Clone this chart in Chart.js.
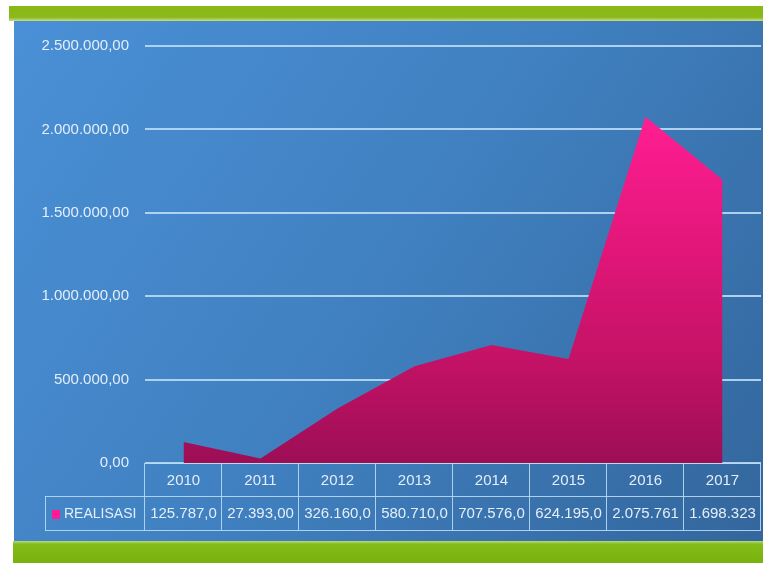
<!DOCTYPE html>
<html><head><meta charset="utf-8">
<script src="https://cdn.jsdelivr.net/npm/chart.js@4/dist/chart.umd.min.js"></script>
<style>html,body{margin:0;padding:0;background:#fff;}canvas{display:block;}</style>
</head><body>
<canvas id="c" width="763" height="563"></canvas>
<script>
const categories = ['2010','2011','2012','2013','2014','2015','2016','2017'];
const realisasi = [125787, 27393, 326160, 580710, 707576, 624195, 2075761, 1698323];
const tableLabels = ['125.787,0','27.393,00','326.160,0','580.710,0','707.576,0','624.195,0','2.075.761','1.698.323'];
const seriesName = 'REALISASI';
const yMax = 2500000;
const yStep = 500000;

const FONT = "'Liberation Sans', Arial, sans-serif";
const FSIZE = 15;
const TXT = '#e4eefa';
const LINE = 'rgba(185,218,245,0.9)';

function fmtID(v){
  const fixed = Math.abs(v).toFixed(2);
  let [ip, dp] = fixed.split('.');
  ip = ip.replace(/\B(?=(\d{3})+(?!\d))/g, '.');
  return (v<0?'-':'') + ip + ',' + dp;
}

const bgPlugin = {
  id:'bg',
  beforeDraw(chart){
    const c = chart.ctx, W = chart.width, H = chart.height;
    c.save();
    c.fillStyle = '#fff'; c.fillRect(0,0,W,H);
    const g = c.createLinearGradient(15,20,W,543);
    g.addColorStop(0,'#4a90d6'); g.addColorStop(0.5,'#4080c0'); g.addColorStop(1,'#33669c');
    c.fillStyle = g; c.fillRect(14,20,W-14,523);
    const gt = c.createLinearGradient(0,6,0,21);
    gt.addColorStop(0,'#8ab814'); gt.addColorStop(0.75,'#8cb81c'); gt.addColorStop(1,'#c4e08a');
    c.fillStyle = gt; c.fillRect(9,6,W-9,15);
    const gb = c.createLinearGradient(0,540,0,563);
    gb.addColorStop(0,'#c8e4a0'); gb.addColorStop(0.18,'#84bc18'); gb.addColorStop(1,'#78b010');
    c.fillStyle = gb; c.fillRect(13,541,W-13,22);
    c.restore();
  }
};

const tablePlugin = {
  id:'table',
  afterDatasetsDraw(chart){
    const c = chart.ctx, ca = chart.chartArea, xs = chart.scales.x;
    const n = categories.length;
    const colW = (ca.right - ca.left)/n;
    const top = ca.bottom, r1 = top + 33, r2 = top + 67;
    const legL = 45;
    c.save();
    c.strokeStyle = LINE; c.lineWidth = 1;
    c.beginPath();
    c.moveTo(ca.left, top+0.5); c.lineTo(ca.right, top+0.5);
    c.moveTo(legL, r1+0.5); c.lineTo(ca.right, r1+0.5);
    c.moveTo(legL, r2+0.5); c.lineTo(ca.right, r2+0.5);
    for(let i=0;i<=n;i++){
      const x = Math.round(ca.left + i*colW) - 0.5;
      c.moveTo(x, top); c.lineTo(x, r2);
    }
    c.moveTo(legL+0.5, r1); c.lineTo(legL+0.5, r2);
    c.stroke();
    c.fillStyle = TXT; c.font = FSIZE + 'px ' + FONT;
    c.textAlign = 'center'; c.textBaseline = 'middle';
    const ym = (r1+r2)/2 + 1;
    for(let i=0;i<n;i++){
      c.fillText(tableLabels[i], xs.getPixelForValue(i), ym);
    }
    c.fillStyle = '#ff1a96';
    c.fillRect(52, ym-4, 8, 9);
    c.fillStyle = TXT; c.textAlign = 'left';
    c.font = '14px ' + FONT;
    c.fillText(chart.data.datasets[0].label, 64, ym);
    c.restore();
  }
};

new Chart(document.getElementById('c'), {
  type:'line',
  data:{
    labels: categories,
    datasets:[{
      label: seriesName,
      data: realisasi,
      fill:'origin',
      borderWidth:0,
      pointRadius:0,
      tension:0,
      backgroundColor(ctx){
        const ca = ctx.chart.chartArea;
        if(!ca) return '#d01070';
        const g = ctx.chart.ctx.createLinearGradient(0, ca.top, 0, ca.bottom);
        g.addColorStop(0,'#ff1aa2'); g.addColorStop(0.17,'#ff1e92'); g.addColorStop(0.5,'#e01678');
        g.addColorStop(0.75,'#c41266'); g.addColorStop(1,'#9c0e55');
        return g;
      }
    }]
  },
  options:{
    responsive:false,
    animation:false,
    layout:{padding:{top:46,right:2,left:0,bottom:0}},
    plugins:{legend:{display:false}, tooltip:{enabled:false}},
    scales:{
      x:{
        offset:true,
        grid:{display:false, drawTicks:false},
        border:{display:false},
        ticks:{color:TXT, font:{family:FONT, size:FSIZE}, padding:9, maxRotation:0},
        afterFit(s){ s.height = 100; }
      },
      y:{
        min:0, max:yMax,
        grid:{color:LINE, lineWidth:2, drawTicks:false},
        border:{display:false},
        ticks:{stepSize:yStep, color:TXT, font:{family:FONT, size:FSIZE}, padding:16, callback:(v)=>fmtID(v)},
        afterFit(s){ s.width = 145; }
      }
    }
  },
  plugins:[bgPlugin, tablePlugin]
});
</script>
</body></html>
